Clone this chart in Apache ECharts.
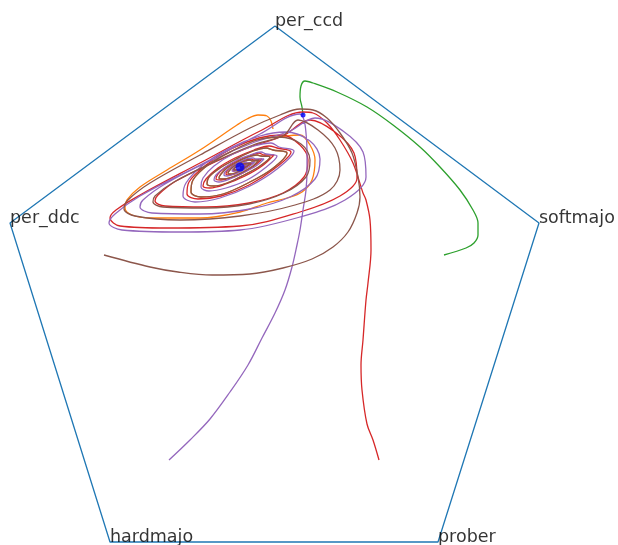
<!DOCTYPE html>
<html>
<head>
<meta charset="utf-8">
<script src="https://cdn.jsdelivr.net/npm/echarts@6/dist/echarts.min.js"></script>
<style>html,body{margin:0;padding:0;background:#fff}#c{width:618px;height:545px}</style>
</head>
<body>
<div id="c"></div>
<script>
// Anchor names and their positions in the projection plane
const anchorNames = ["per_ccd", "softmajo", "prober", "hardmajo", "per_ddc"];
const anchorPoints = [[0, 285], [264, 88], [163, -231], [-165, -231], [-265, 88]];

// Trajectories (projected coordinates)
const orangeTraj = [[-2,182],[-4,190],[-8,195],[-17,196],[-28,192],[-38,186],[-75,161],[-108,141],[-135,124],[-148,111],[-150,103],[-143,96],[-125,93],[-75,93],[-35,99],[-8,108],[12,113],[27,119],[37,131],[40,151],[35,166],[25,176],
 [4,174],[-18,171],[-43,160],[-67,146],[-82,131],[-84,119],[-74,114],[-52,117],[-27,128],[-3,142],[12,158],
 [-2,161],[-9,163],[-22,160],[-39,152],[-55,143],[-66,134],[-68,127],[-61,125],[-48,128],[-31,136],[-15,145],[-5,154],
 [-14,155],[-18,156],[-27,154],[-38,149],[-48,143],[-54,137],[-56,133],[-52,132],[-43,134],[-32,139],[-22,145],[-16,151],
 [-23,150],[-25,151],[-30,150],[-37,147],[-42,144],[-46,140],[-47,138],[-45,137],[-40,138],[-34,141],[-28,145],[-24,148],
 [-30,147],[-31,147],[-33,147],[-36,145],[-39,144],[-41,142],[-41,141],[-40,141],[-37,141],[-34,142],[-32,144],[-35,144]];

const greenTraj = [[169,56],[191,63],[199,68],[203,76],[203,88],[198,101],[185,121],[165,144],[145,164],[118,186],[92,204],[62,219],[38,228],[30,230],[26,225],[25,214],[27,204],[28,196]];

const redTraj = [[104,-149],[98,-129],[92,-113],[87,-79],[86,-54],[88,-29],[91,11],[93,28],[96,61],[95,91],[91,111],[88,118],[78,148],[65,171],[52,188],[38,198],[28,199],
 [-13,181],[-75,148],[-135,116],[-159,101],[-165,93],[-155,85],[-108,83],[-35,85],[25,99],[65,115],[82,133],[79,158],[60,179],[35,191],
 [8,175],[-22,165],[-60,149],[-99,130],[-117,116],[-120,110],[-110,105],[-69,104],[-26,108],[8,118],[29,134],[33,151],[25,166],
 [7,176],[-16,173],[-44,162],[-69,146],[-86,129],[-88,117],[-77,112],[-54,115],[-26,126],[-1,142],[16,159],
 [2,163],[-6,165],[-21,161],[-40,153],[-57,143],[-69,132],[-72,125],[-65,123],[-49,127],[-30,135],[-13,145],[-1,156],
 [-11,156],[-16,158],[-26,155],[-38,150],[-50,143],[-57,137],[-59,132],[-54,131],[-44,133],[-32,138],[-21,145],[-13,152],
 [-21,151],[-24,152],[-30,151],[-37,148],[-44,144],[-48,140],[-49,137],[-46,136],[-40,137],[-33,141],[-27,145],[-22,148],
 [-28,148],[-29,148],[-32,147],[-36,146],[-39,144],[-41,142],[-42,140],[-41,140],[-38,141],[-34,142],[-31,144],[-29,146],[-35,144]];

const purpleTraj = [[-106,-149],[-85,-129],[-65,-108],[-45,-81],[-27,-54],[-13,-27],[0,-2],[10,21],[17,44],[22,66],[25,81],[28,101],[31,121],[32,141],[32,161],[31,178],[29,191],
 [25,197],[-15,177],[-75,146],[-135,115],[-160,97],[-166,88],[-153,81],[-95,79],[-35,81],[25,94],[70,111],[91,134],[88,159],[68,180],[40,193],
 [15,180],[-20,169],[-65,150],[-110,127],[-132,111],[-135,104],[-123,98],[-75,97],[-25,102],[15,114],[40,132],[45,152],[35,170],
 [10,179],[-15,175],[-45,163],[-72,146],[-89,128],[-92,115],[-80,109],[-55,113],[-25,125],[2,142],[19,160],
 [4,164],[-4,168],[-21,165],[-42,157],[-61,145],[-72,133],[-74,124],[-66,120],[-49,123],[-28,131],[-10,143],[2,155],
 [-9,157],[-14,159],[-25,156],[-38,151],[-51,143],[-59,136],[-61,131],[-56,129],[-45,132],[-32,138],[-19,145],[-11,152],
 [-19,152],[-22,153],[-29,152],[-37,148],[-45,143],[-50,139],[-51,136],[-48,135],[-41,137],[-33,140],[-25,145],[-20,149],
 [-27,148],[-29,149],[-32,148],[-36,146],[-40,144],[-42,142],[-43,140],[-41,140],[-38,140],[-34,142],[-30,144],[-28,147],[-35,144]];

const brownTraj = [[-171,56],[-125,44],[-97,39],[-63,36],[-25,37],[8,43],[37,52],[58,64],[73,79],[82,98],[85,114],[83,134],[77,158],[65,178],[52,193],[38,201],[25,202],
 [5,196],[-25,183],[-75,156],[-125,128],[-147,111],[-151,102],[-140,95],[-95,91],[-35,95],[20,106],[55,121],[65,141],[60,163],[43,181],[23,191],
 [9,176],[-22,166],[-61,149],[-101,129],[-120,115],[-122,109],[-112,104],[-70,103],[-26,107],[9,118],[31,134],[35,151],[26,167],
 [4,174],[-18,171],[-43,160],[-67,146],[-82,131],[-84,119],[-74,114],[-52,117],[-27,128],[-3,142],[12,158],
 [-2,161],[-9,163],[-22,160],[-39,152],[-55,143],[-66,134],[-68,127],[-61,125],[-48,128],[-31,136],[-15,145],[-5,154],
 [-14,155],[-18,156],[-27,154],[-38,149],[-48,143],[-54,137],[-56,133],[-52,132],[-43,134],[-32,139],[-22,145],[-16,151],
 [-23,150],[-25,151],[-30,150],[-37,147],[-42,144],[-46,140],[-47,138],[-45,137],[-40,138],[-34,141],[-28,145],[-24,148],
 [-30,147],[-31,147],[-33,147],[-36,145],[-39,144],[-41,142],[-41,141],[-40,141],[-37,141],[-34,142],[-32,144],[-35,144]];

// Equilibria
const stablePoint = [[-35, 144]];
const saddlePoint = [[28, 196]];

const chart = echarts.init(document.getElementById('c'), null, {renderer: 'canvas'});
const traj = (data, color, z) => ({
  type: 'line', data: data, smooth: 0.35, showSymbol: false, symbol: 'none',
  lineStyle: {color: color, width: 1.3}, z: z, silent: true
});
const pent = anchorPoints.concat([anchorPoints[0]]);
chart.setOption({
  animation: false,
  backgroundColor: '#ffffff',
  grid: {left: 0, right: 0, top: 0, bottom: 0, containLabel: false},
  xAxis: {type: 'value', min: -275, max: 343, show: false},
  yAxis: {type: 'value', min: -234, max: 311, show: false},
  series: [
    {type: 'line', data: pent, showSymbol: false, symbol: 'none', lineStyle: {color: '#1f77b4', width: 1.3}, z: 1, silent: true},
    traj(orangeTraj, '#ff7f0e', 2),
    traj(greenTraj, '#2ca02c', 3),
    traj(redTraj, '#d62728', 4),
    traj(purpleTraj, '#9467bd', 5),
    traj(brownTraj, '#8c564b', 6),
    {type: 'scatter', data: stablePoint, symbolSize: 9, itemStyle: {color: '#0000ff'}, z: 10, silent: true},
    {type: 'scatter', data: saddlePoint, symbolSize: 5, itemStyle: {color: '#0000ff'}, z: 10, silent: true},
    {type: 'scatter', data: anchorPoints.map((p, i) => ({value: p, name: anchorNames[i]})), symbolSize: 0, z: 12, silent: true,
      label: {show: true, formatter: '{b}', position: [0, 4], align: 'left', verticalAlign: 'bottom',
        fontFamily: 'DejaVu Sans', fontSize: 17.5, color: '#000000'}}
  ]
});
</script>
</body>
</html>
